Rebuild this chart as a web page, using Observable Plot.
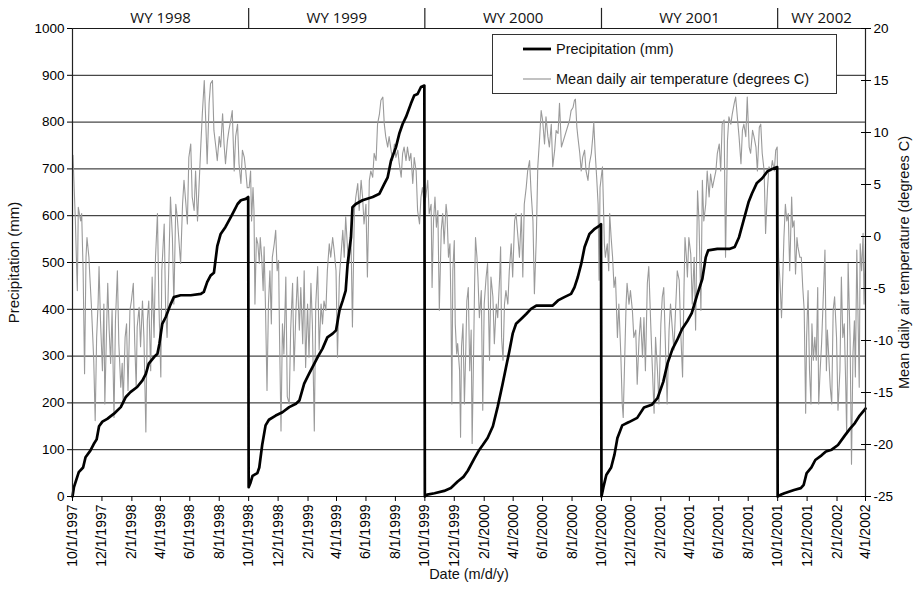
<!DOCTYPE html>
<html><head><meta charset="utf-8">
<script src="https://cdn.jsdelivr.net/npm/d3@7"></script>
<script src="https://cdn.jsdelivr.net/npm/@observablehq/plot@0.6"></script>
<style>
body{margin:0;background:#fff}
#chart{position:relative;width:917px;height:595px;font-family:"Liberation Sans",Arial,sans-serif}
#legend{position:absolute;left:492px;top:34px;width:343px;height:58px;border:1.5px solid #333;background:#fff;font-size:14.5px;color:#111}
#legend .row{position:absolute;left:30px;display:flex;align-items:center}
#legend svg{margin-right:5px}
</style>
</head><body><div id="chart"><div id="legend">
<div class="row" style="top:4px"><svg width="28" height="20"><line x1="0" x2="28" y1="10" y2="10" stroke="#000" stroke-width="2.8"/></svg><span>Precipitation (mm)</span></div>
<div class="row" style="top:34px"><svg width="28" height="20"><line x1="0" x2="28" y1="10" y2="10" stroke="#999" stroke-width="1.2"/></svg><span>Mean daily air temperature (degrees C)</span></div>
</div></div>
<script>
// ---------- data ----------
const wyYears = [1998, 1999, 2000, 2001, 2002];
const wyLabels = ["WY 1998", "WY 1999", "WY 2000", "WY 2001", "WY 2002"];
const wyStartLabels = ["10/1/1997", "10/1/1998", "10/1/1999", "10/1/2000", "10/1/2001"];
const periodEnd = "4/1/2002";
const xTickLabels = ["10/1/1997","12/1/1997","2/1/1998","4/1/1998","6/1/1998","8/1/1998","10/1/1998","12/1/1998","2/1/1999","4/1/1999","6/1/1999","8/1/1999","10/1/1999","12/1/1999","2/1/2000","4/1/2000","6/1/2000","8/1/2000","10/1/2000","12/1/2000","2/1/2001","4/1/2001","6/1/2001","8/1/2001","10/1/2001","12/1/2001","2/1/2002","4/1/2002"];
const precipTicks = [0, 100, 200, 300, 400, 500, 600, 700, 800, 900, 1000];
const tempTicks = [-25, -20, -15, -10, -5, 0, 5, 10, 15, 20];

// cumulative precipitation (mm): [day of water year, mm]
const precipWY1998 = [[0,0],[3,20],[13,52],[22,62],[27,84],[37,98],[44,112],[50,122],[55,150],[62,160],[72,166],[86,177],[100,191],[110,212],[120,223],[134,234],[145,248],[152,262],[158,284],[169,298],[176,305],[180,326],[186,369],[193,383],[203,410],[210,426],[224,430],[245,430],[266,433],[272,437],[279,458],[286,472],[293,478],[300,535],[307,561],[317,576],[328,597],[335,611],[342,625],[349,633],[359,636],[364,640]];
const precipWY1999 = [[0,20],[4,30],[8,44],[18,50],[22,62],[28,110],[35,152],[42,164],[56,173],[70,180],[84,191],[98,198],[105,205],[115,241],[125,262],[136,284],[143,298],[153,316],[163,340],[174,348],[181,355],[188,397],[195,419],[201,440],[205,497],[212,554],[215,618],[222,625],[236,633],[257,640],[271,647],[281,668],[288,682],[295,718],[305,746],[312,775],[319,796],[326,811],[336,839],[343,857],[350,860],[357,875],[364,878]];
const precipWY2000 = [[0,0],[5,4],[20,7],[40,12],[54,18],[68,32],[80,42],[89,55],[103,82],[113,100],[120,110],[130,125],[141,150],[151,192],[161,240],[168,275],[175,310],[182,348],[189,369],[200,380],[210,390],[220,401],[231,408],[265,408],[276,419],[289,426],[303,433],[310,447],[317,469],[324,497],[331,533],[341,561],[352,572],[362,579],[365,582]];
const precipWY2001 = [[0,0],[4,20],[10,46],[20,62],[27,90],[33,125],[43,152],[57,159],[74,168],[88,190],[104,196],[116,210],[128,245],[137,285],[147,315],[157,335],[167,358],[178,375],[187,392],[198,430],[209,465],[216,511],[221,526],[240,529],[265,529],[276,533],[285,554],[295,592],[305,630],[312,648],[322,670],[333,680],[344,695],[354,700],[364,704]];
const precipWY2002 = [[0,0],[5,3],[14,7],[34,14],[48,18],[54,25],[60,50],[70,62],[78,78],[91,88],[100,96],[112,100],[125,110],[139,130],[150,145],[160,157],[170,173],[182,188]];

// mean daily air temperature (deg C): [day of water year, degC]
const tempWY1998 = [[0,7.0],[1,7.8],[6,1.5],[8,-2.0],[10,-5.2],[12,2.8],[17,1.5],[19,2.2],[22,-3.3],[25,-13.2],[28,-2.0],[30,-0.1],[34,-2.0],[36,-3.9],[39,-6.5],[42,-9.7],[44,-11.9],[47,-17.7],[50,-9.7],[53,-6.5],[55,-2.9],[58,-8.1],[62,-12.9],[65,-6.5],[67,-16.1],[71,-8.1],[73,-4.5],[76,-9.0],[79,-12.2],[82,-7.1],[86,-17.4],[89,-8.1],[93,-3.3],[96,-10.3],[100,-14.5],[103,-12.2],[105,-16.1],[109,-9.7],[112,-8.4],[115,-14.8],[119,-7.1],[122,-6.2],[126,-4.5],[129,-10.3],[132,-14.5],[134,-8.7],[138,-6.8],[141,-10.6],[145,-6.2],[148,-9.7],[152,-18.8],[155,-8.1],[158,-6.2],[162,-12.9],[165,-3.9],[169,-9.7],[172,-2.0],[176,2.2],[179,-6.5],[183,-13.5],[185,-3.3],[190,1.2],[193,-7.1],[196,-9.7],[200,-2.0],[203,3.8],[207,-0.1],[210,-6.5],[214,3.1],[217,1.9],[221,-0.7],[224,-2.6],[228,3.1],[231,5.4],[235,3.1],[238,1.2],[241,7.6],[245,8.9],[248,3.8],[252,2.5],[255,6.3],[259,1.5],[262,4.7],[266,8.9],[269,11.8],[273,15.0],[276,11.2],[279,7.0],[283,12.8],[286,14.7],[290,15.0],[293,10.2],[297,8.6],[300,7.3],[304,9.6],[307,8.6],[311,11.8],[314,8.9],[317,7.0],[321,9.2],[324,10.2],[328,11.2],[331,12.1],[335,6.3],[338,9.6],[342,10.8],[345,7.0],[349,5.1],[352,8.3],[356,7.6],[359,6.3],[362,4.7]];
const tempWY1999 = [[1,4.7],[4,6.3],[6,1.5],[9,4.7],[11,2.5],[13,-6.5],[16,-0.1],[19,-0.7],[22,-2.6],[24,-0.1],[27,-2.0],[30,-5.2],[32,-1.0],[35,-7.1],[38,-14.8],[41,-6.5],[44,-3.3],[47,-8.4],[49,-2.0],[53,-0.7],[56,0.6],[59,-3.3],[62,-2.3],[64,-9.7],[67,-18.7],[70,-8.4],[73,-11.3],[77,-3.9],[80,-15.4],[84,-16.1],[87,-9.0],[91,-4.5],[94,-12.9],[98,-7.1],[101,-3.9],[105,-9.0],[108,-4.9],[112,-10.3],[115,-3.3],[118,-12.6],[122,-6.5],[125,-11.6],[129,-4.5],[132,-8.4],[136,-18.7],[139,-6.5],[143,-2.9],[146,-10.9],[150,-6.5],[153,-8.4],[156,-6.2],[160,-7.1],[163,-3.3],[167,-0.7],[170,-2.0],[174,-0.1],[177,-1.3],[181,-3.3],[184,-11.6],[188,-3.9],[191,-2.0],[195,0.6],[198,-2.0],[201,1.9],[205,-1.3],[208,-2.6],[212,-0.1],[215,-8.7],[219,2.5],[222,3.8],[226,5.1],[229,2.5],[233,5.4],[236,3.8],[239,1.2],[243,3.1],[246,-3.9],[250,5.4],[253,6.3],[257,5.7],[260,8.0],[264,7.3],[267,10.8],[271,11.8],[274,13.1],[278,13.4],[281,10.8],[284,9.6],[288,8.6],[291,9.6],[295,8.3],[298,7.3],[302,8.9],[305,7.6],[309,8.3],[312,7.0],[316,5.7],[319,8.0],[322,8.6],[326,7.3],[329,8.6],[333,7.3],[336,8.0],[340,5.1],[343,7.6],[347,6.3],[350,2.5],[354,1.2],[357,3.8],[360,4.7],[364,3.1]];
const tempWY2000 = [[2,3.8],[6,5.4],[9,2.2],[13,3.1],[15,-4.9],[18,1.5],[21,3.8],[24,0.9],[27,2.5],[30,-7.1],[34,0.6],[37,2.2],[40,-0.7],[44,3.1],[46,2.2],[49,-2.0],[52,-0.7],[54,-6.5],[56,-16.1],[58,-3.3],[61,-0.4],[63,-8.4],[66,-11.3],[68,-10.3],[72,-12.9],[74,-19.3],[76,-10.6],[79,-8.4],[82,-16.1],[85,-10.6],[87,-6.2],[90,-4.9],[93,-12.9],[96,-9.0],[98,-19.9],[101,-11.3],[103,-4.9],[105,-0.1],[108,-2.0],[110,-3.9],[113,-7.8],[117,-5.2],[120,-16.7],[123,-6.5],[127,-3.9],[130,-2.6],[134,-11.9],[137,-3.9],[141,-5.8],[144,-10.3],[148,-6.5],[151,-7.8],[155,-3.9],[157,-1.0],[159,-9.7],[162,-11.9],[165,-6.5],[168,-5.2],[172,-6.5],[175,-3.3],[179,-0.7],[182,-3.9],[186,1.5],[189,2.2],[193,-0.1],[196,-2.0],[200,2.2],[203,-3.9],[206,3.1],[210,4.7],[213,6.3],[217,7.3],[220,4.4],[224,1.5],[227,-5.5],[231,-0.1],[234,6.7],[238,9.6],[241,12.1],[244,11.2],[248,8.9],[251,11.5],[255,9.6],[258,8.6],[262,10.8],[265,6.7],[269,8.3],[272,10.2],[276,9.9],[279,12.8],[283,8.6],[300,11.2],[303,12.1],[307,12.4],[310,13.1],[312,13.2],[315,10.5],[317,9.6],[321,8.0],[324,6.3],[327,7.6],[331,8.3],[334,6.3],[338,5.4],[341,7.0],[345,8.0],[348,9.6],[350,11.0],[353,8.0],[356,5.7],[359,3.1],[361,-4.2],[363,4.7]];
const tempWY2001 = [[2,6.7],[4,3.1],[6,-0.7],[8,-2.0],[12,-0.7],[15,-3.3],[17,2.2],[20,-0.1],[23,-2.0],[26,-4.9],[29,-3.9],[33,-9.7],[36,-6.5],[40,-11.3],[43,-16.1],[45,-17.4],[48,-11.9],[51,-6.5],[53,-4.5],[57,-6.5],[60,-5.2],[64,-7.1],[67,-9.7],[71,-9.0],[74,-14.2],[78,-9.7],[81,-7.8],[85,-11.6],[88,-7.8],[91,-12.9],[95,-4.5],[98,-2.9],[102,-8.4],[105,-12.2],[109,-17.0],[112,-9.7],[116,-12.9],[119,-16.1],[123,-8.4],[126,-5.8],[129,-4.9],[133,-11.3],[136,-16.1],[140,-9.0],[143,-6.5],[147,-9.0],[150,-10.9],[154,-6.5],[157,-3.3],[161,-4.2],[164,-9.0],[168,-13.5],[171,-4.9],[173,-0.1],[176,-2.0],[178,-3.9],[181,-0.1],[185,-1.7],[188,-6.5],[192,-2.0],[195,-9.0],[199,4.4],[202,1.5],[206,-7.1],[209,5.4],[212,1.5],[216,3.1],[219,6.3],[223,3.8],[226,6.0],[230,4.7],[233,5.4],[237,6.3],[240,8.0],[244,8.9],[247,6.3],[250,10.8],[254,11.2],[257,-2.0],[261,9.2],[264,11.5],[268,10.8],[271,11.8],[275,12.8],[278,13.4],[282,11.2],[285,9.6],[289,7.0],[292,10.2],[295,10.8],[299,9.6],[302,13.4],[306,8.6],[309,8.0],[313,10.2],[316,9.6],[320,8.6],[323,6.3],[327,10.5],[330,10.8],[333,8.0],[337,6.3],[340,0.3],[344,4.7],[347,6.7],[351,6.3],[354,7.3],[358,6.3],[361,8.3],[364,8.6]];
const tempWY2002 = [[0,4.7],[2,-2.0],[5,-4.5],[8,-7.8],[11,-3.3],[13,-0.1],[16,3.1],[19,1.5],[22,2.2],[25,-3.3],[29,3.8],[31,0.9],[34,1.5],[37,-3.6],[40,-0.1],[42,-1.0],[46,-2.0],[49,-2.0],[52,-4.9],[55,-7.1],[58,-17.0],[60,-9.7],[63,-5.2],[66,-12.9],[69,-16.1],[71,-8.4],[74,-11.9],[77,-9.7],[80,-11.9],[83,-4.9],[85,-16.1],[88,-12.9],[91,-10.3],[94,-6.5],[98,-1.3],[101,-12.9],[103,-9.0],[106,-11.6],[109,-14.5],[112,-16.1],[115,-7.1],[118,-5.8],[122,-9.7],[125,-16.7],[129,-12.9],[132,-3.9],[135,-9.7],[138,-8.4],[141,-14.2],[143,-19.0],[146,-2.6],[150,-9.7],[153,-21.9],[156,-11.3],[159,-8.1],[161,-13.5],[164,-1.3],[167,-9.0],[169,-14.5],[171,-0.7],[174,-3.3],[177,0.3],[179,-6.5],[182,-0.7]];

const precipByWY = [precipWY1998, precipWY1999, precipWY2000, precipWY2001, precipWY2002];
const tempByWY = [tempWY1998, tempWY1999, tempWY2000, tempWY2001, tempWY2002];

// ---------- build ----------
const parse = d3.utcParse("%m/%d/%Y");
const wyDate = (wy, d) => new Date(Date.UTC(wy - 1, 9, 1 + d));
// secondary axis: temperature -25..20 mapped onto precipitation 0..1000
const toP = t => (t + 25) * 1000 / 45;
const fromP = p => String(Math.round(p * 45 / 1000 - 25));

const precip = [], temp = [];
wyYears.forEach((wy, i) => {
  precipByWY[i].forEach(([d, v]) => precip.push({date: wyDate(wy, d), mm: v}));
  tempByWY[i].forEach(([d, v]) => temp.push({date: wyDate(wy, d), t: v, p: toP(v)}));
});

const xStart = parse(wyStartLabels[0]);
const xEnd = parse(periodEnd);
const xTickDates = xTickLabels.map(parse);
const labelOf = new Map(xTickDates.map((d, i) => [+d, xTickLabels[i]]));
const wyStarts = wyStartLabels.map(parse);
const wyBounds = wyStarts.concat([xEnd]);
const wyMid = wyLabels.map((l, i) => ({label: l, date: new Date((+wyBounds[i] + +wyBounds[i + 1]) / 2)}));

const font = "'Liberation Sans', Arial, sans-serif";

const chart = Plot.plot({
  width: 917,
  height: 595,
  marginLeft: 72,
  marginRight: 52,
  marginTop: 28,
  marginBottom: 99,
  style: {fontFamily: font, background: "#fff", color: "#000", overflow: "visible"},
  x: {type: "utc", domain: [xStart, xEnd]},
  y: {domain: [0, 1000]},
  marks: [
    Plot.ruleY(precipTicks, {stroke: "#1a1a1a", strokeWidth: 1}),
    Plot.ruleX(wyStarts.slice(1), {y1: 1000, y2: 1043, stroke: "#222", strokeWidth: 1.2}),
    Plot.text(wyMid, {x: "date", y: 1022, text: "label", fontSize: 15, fontFamily: "'Open Sans', sans-serif", fill: "#111"}),
    Plot.line(temp, {x: "date", y: "p", stroke: "#9a9a9a", strokeWidth: 1.1}),
    Plot.line(precip, {x: "date", y: "mm", stroke: "#000", strokeWidth: 2.7, strokeLinejoin: "round"}),
    Plot.ruleX([xStart, xEnd], {y1: 0, y2: 1000, stroke: "#222", strokeWidth: 1.2}),
    Plot.axisY(precipTicks, {anchor: "left", tickSize: 5, tickPadding: 3, fontSize: 13.5, label: null, tickFormat: d => String(d)}),
    Plot.axisY(tempTicks.map(toP), {anchor: "right", tickSize: 10, dx: -5, tickFormat: () => "", label: null}),
    Plot.axisY(tempTicks.map(toP), {anchor: "right", tickSize: 0, tickPadding: 8, fontSize: 13.5, tickFormat: fromP, label: null}),
    Plot.axisX(xTickDates, {anchor: "bottom", tickSize: 5, tickPadding: 3, tickRotate: -90, fontSize: 14, label: null, tickFormat: d => labelOf.get(+d)}),
    Plot.text(["Precipitation (mm)"], {frameAnchor: "left", dx: -58, rotate: -90, textAnchor: "middle", fontSize: 15, fill: "#111"}),
    Plot.text(["Mean daily air temperature (degrees C)"], {frameAnchor: "right", dx: 39, rotate: -90, textAnchor: "middle", fontSize: 14.5, fill: "#111"}),
    Plot.text(["Date (m/d/y)"], {frameAnchor: "bottom", dy: 82, fontSize: 14.5, fill: "#111"})
  ]
});
document.getElementById("chart").insertBefore(chart, document.getElementById("legend"));
</script>
</body></html>
